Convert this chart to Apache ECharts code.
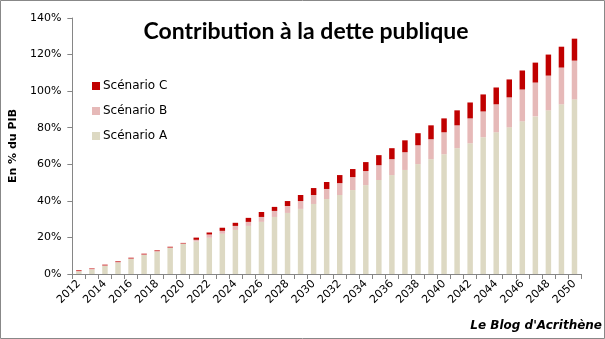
<!DOCTYPE html>
<html>
<head>
<meta charset="utf-8">
<script src="https://cdn.jsdelivr.net/npm/echarts@6/dist/echarts.min.js"></script>
<style>
  html, body { margin: 0; padding: 0; background: #fff; }
  #chart { width: 605px; height: 339px; }
</style>
</head>
<body>
<div id="chart"></div>
<script>
// Years 2012..2050
const years = ['2012','2013','2014','2015','2016','2017','2018','2019','2020','2021',
  '2022','2023','2024','2025','2026','2027','2028','2029','2030','2031',
  '2032','2033','2034','2035','2036','2037','2038','2039','2040','2041',
  '2042','2043','2044','2045','2046','2047','2048','2049','2050'];

// Contribution of each scenario layer, in % of GDP (stacked)
const scenarioA = [1.4, 2.5, 4.5, 6.3, 8.3, 10.5, 12.3, 14.3, 16.5, 17.8,
  19.8, 22.0, 24.1, 26.3, 28.5, 31.2, 33.4, 35.6, 38.3, 41.0,
  43.2, 45.9, 48.6, 51.4, 54.1, 56.9, 60.1, 62.8, 65.5, 68.8,
  71.5, 74.8, 77.5, 80.2, 83.5, 86.2, 89.5, 92.8, 95.5];
const scenarioB = [0.2, 0.2, 0.2, 0.2, 0.2, 0.2, 0.2, 0.2, 0.2, 0.9,
  1.8, 1.6, 2.2, 2.2, 2.7, 3.3, 3.8, 4.3, 4.9, 5.5,
  6.5, 7.1, 7.7, 8.1, 8.7, 9.7, 10.3, 10.9, 12.0, 12.5,
  13.6, 14.1, 15.3, 16.4, 17.4, 18.5, 19.0, 20.1, 21.2];
const scenarioC = [0.4, 0.3, 0.4, 0.4, 0.4, 0.4, 0.4, 0.4, 0.3, 1.2,
  1.1, 1.7, 1.7, 2.2, 2.7, 2.2, 2.7, 3.3, 3.8, 3.8,
  4.4, 4.4, 4.9, 5.5, 6.0, 6.5, 6.6, 7.6, 7.6, 8.2,
  8.7, 9.3, 9.2, 9.8, 10.4, 10.9, 11.5, 11.4, 12.0];

const yTicks = { min: 0, max: 140, interval: 20 };

const axisGrey = '#868686';
const labelFont = 'DejaVu Sans';

const chart = echarts.init(document.getElementById('chart'), null, { renderer: 'canvas' });

chart.setOption({
  animation: false,
  backgroundColor: '#ffffff',
  title: {
    text: 'Contribution à la dette publique',
    left: 301,
    top: 15,
    textAlign: 'center',
    textStyle: { fontFamily: 'Lato', fontWeight: 'bold', fontSize: 23, color: '#000' }
  },
  legend: {
    orient: 'vertical',
    left: 92,
    top: 80,
    padding: 0,
    itemWidth: 8,
    itemHeight: 8,
    itemGap: 13,
    icon: 'rect',
    data: ['Scénario C', 'Scénario B', 'Scénario A'],
    textStyle: { fontFamily: labelFont, fontSize: 12, color: '#000', padding: [0, 0, 0, -2] }
  },
  grid: { left: 72, right: 24, top: 18, bottom: 65, containLabel: false },
  xAxis: {
    type: 'category',
    data: years,
    boundaryGap: true,
    axisLine: { lineStyle: { color: axisGrey, width: 1 } },
    axisTick: { show: true, interval: 0, length: 5, lineStyle: { color: axisGrey } },
    axisLabel: {
      interval: 1,
      rotate: 45,
      margin: 8,
      fontFamily: labelFont,
      fontSize: 11,
      color: '#000'
    }
  },
  yAxis: {
    type: 'value',
    min: yTicks.min,
    max: yTicks.max,
    interval: yTicks.interval,
    name: 'En % du PIB',
    nameLocation: 'middle',
    nameGap: 45,
    nameRotate: 90,
    nameTextStyle: { fontFamily: labelFont, fontWeight: 'bold', fontSize: 11, color: '#000' },
    axisLine: { show: true, lineStyle: { color: axisGrey, width: 1 } },
    axisTick: { show: true, length: 5, lineStyle: { color: axisGrey } },
    splitLine: { show: false },
    axisLabel: {
      formatter: '{value}%',
      margin: 11,
      fontFamily: labelFont,
      fontSize: 11,
      color: '#000'
    }
  },
  series: [
    { name: 'Scénario A', type: 'bar', stack: 'total', data: scenarioA, barWidth: '42%',
      itemStyle: { color: '#DDD9C3' } },
    { name: 'Scénario B', type: 'bar', stack: 'total', data: scenarioB, barWidth: '42%',
      itemStyle: { color: '#E6B9B8' } },
    { name: 'Scénario C', type: 'bar', stack: 'total', data: scenarioC, barWidth: '42%',
      itemStyle: { color: '#C00000' } }
  ],
  graphic: [
    {
      type: 'rect',
      shape: { x: 0.5, y: 0.5, width: 604, height: 338 },
      style: { fill: 'none', stroke: '#888888', lineWidth: 1 },
      silent: true
    },
    {
      type: 'text',
      right: 3,
      top: 320,
      style: {
        text: "Le Blog d'Acrithène",
        fontFamily: labelFont,
        fontWeight: 'bold',
        fontStyle: 'italic',
        fontSize: 12,
        fill: '#000'
      }
    }
  ]
});
</script>
</body>
</html>
